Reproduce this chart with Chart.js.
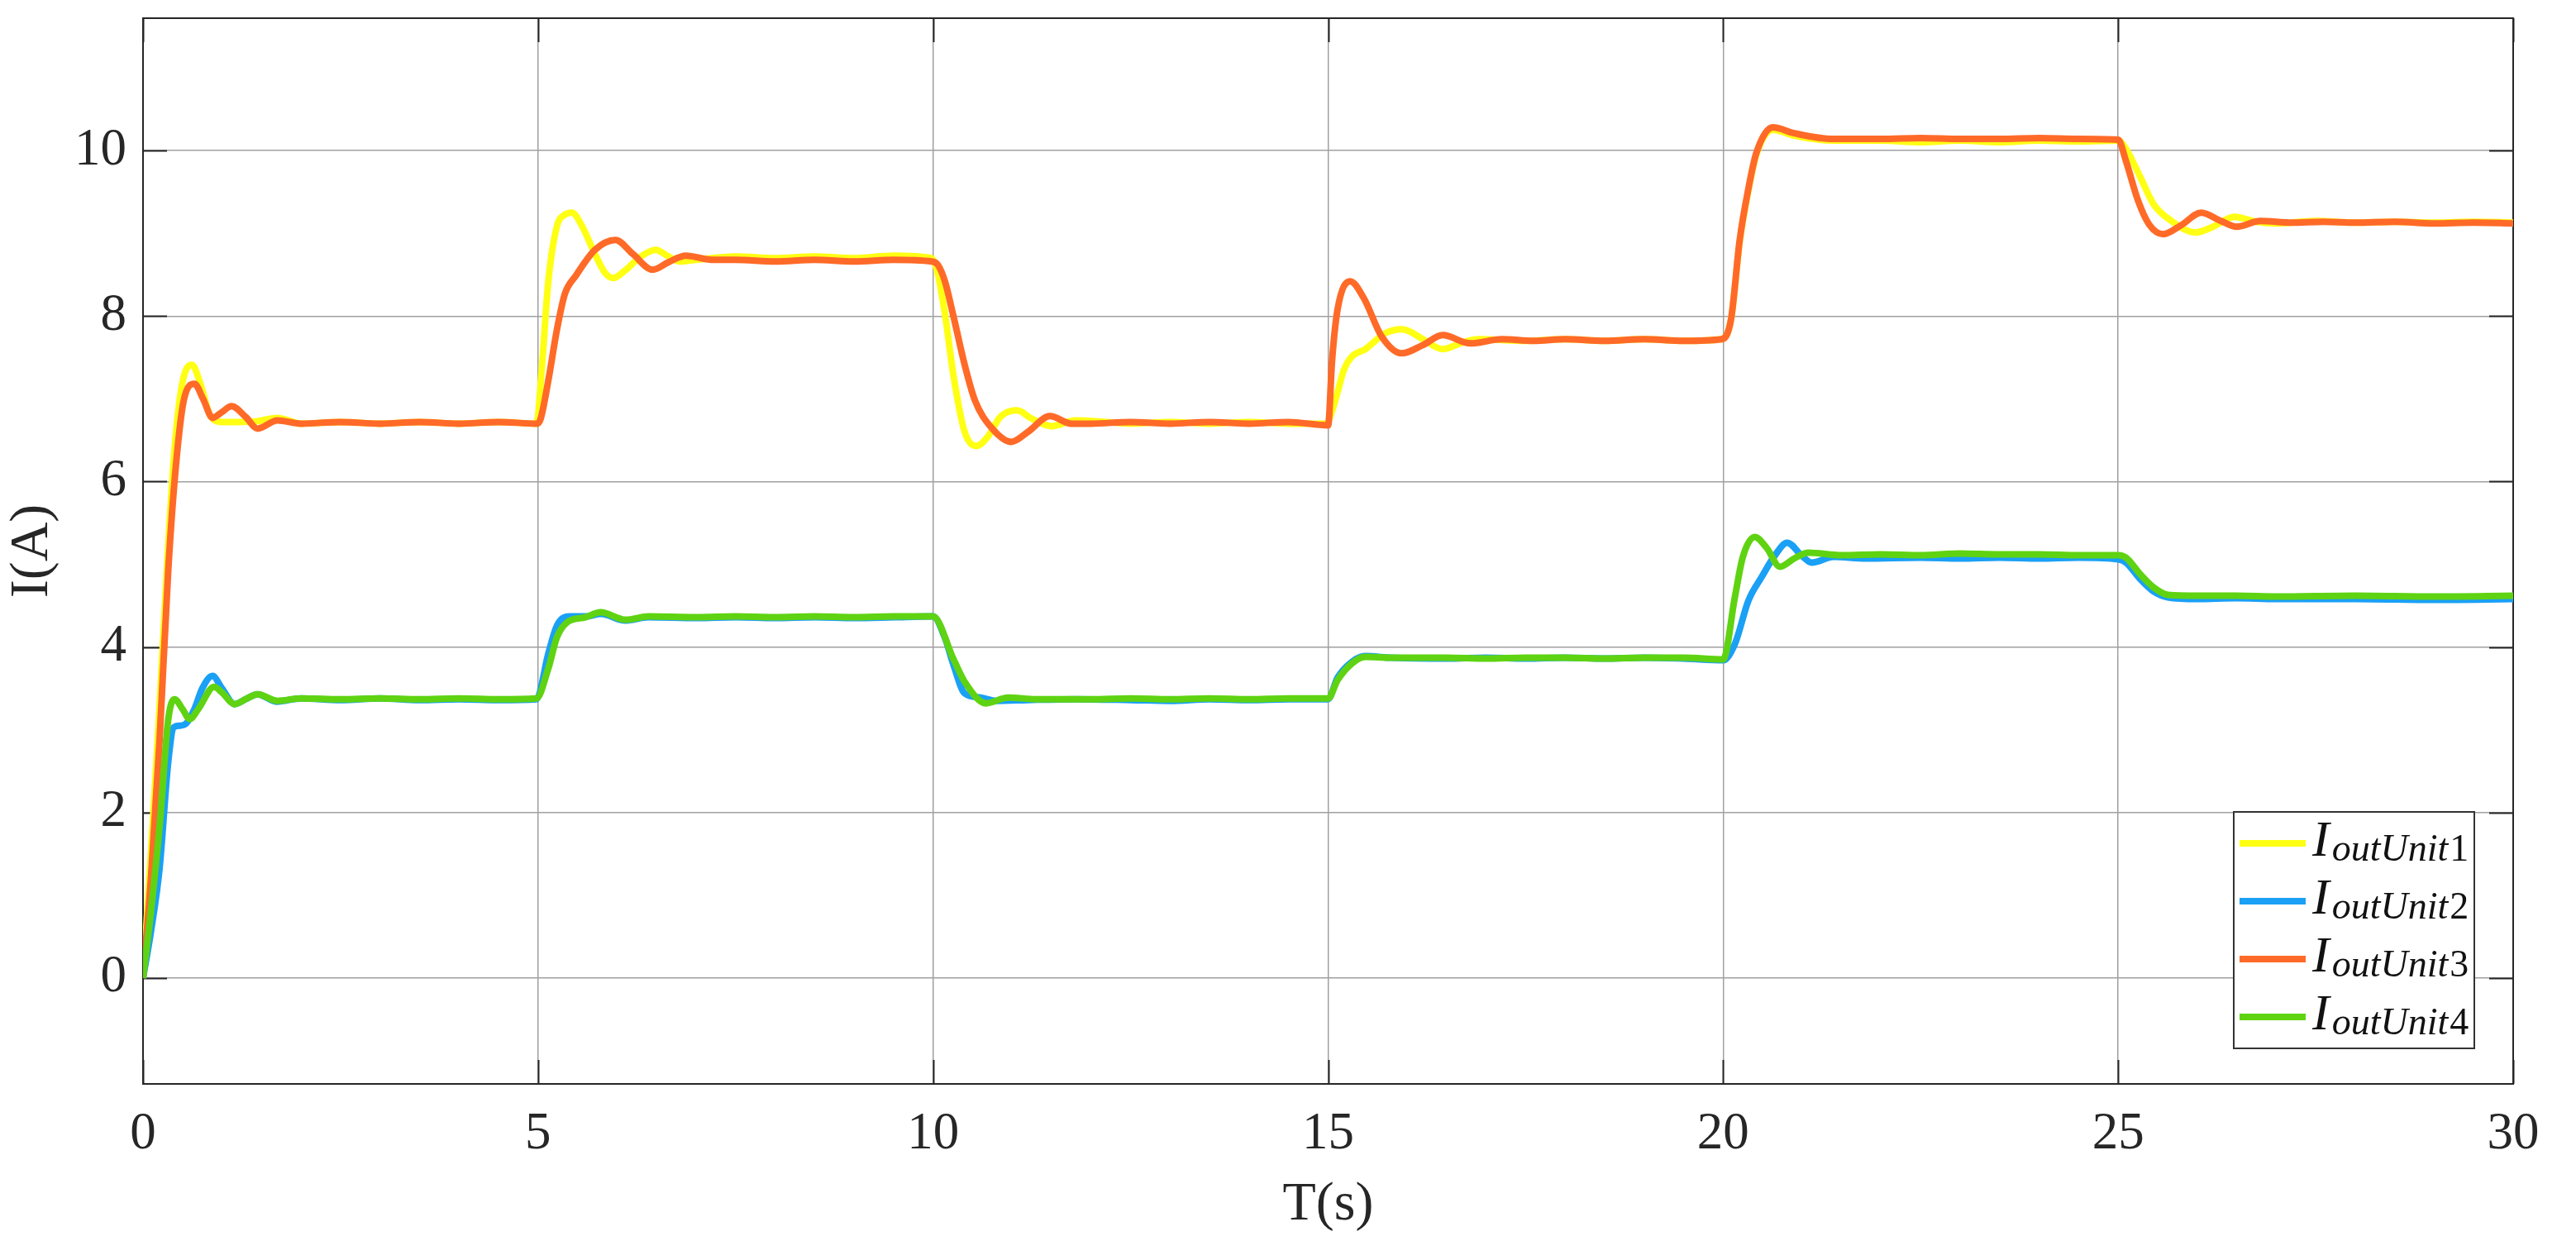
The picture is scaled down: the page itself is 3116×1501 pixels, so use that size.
<!DOCTYPE html>
<html>
<head>
<meta charset="utf-8">
<script src="https://cdn.jsdelivr.net/npm/chart.js@4.4.1/dist/chart.umd.min.js"></script>
<style>
  html, body { margin: 0; padding: 0; background: #fff; }
  #wrap { width: 3116px; height: 1501px; }
</style>
</head>
<body>
<div id="wrap"><canvas id="c" width="3116" height="1501"></canvas></div>
<script>
// axis ticks
const xTicks = [0, 5, 10, 15, 20, 25, 30];
const yTicks = [0, 2, 4, 6, 8, 10];

// I_outUnit1 (yellow)
const tUnit1 = [0, 0.1, 0.2, 0.3, 0.4, 0.5, 0.62, 0.72, 0.85, 1.0, 1.2, 1.45, 1.7, 2.0, 2.5, 3, 3.5, 4, 4.5, 4.98,
  5.05, 5.13, 5.24, 5.33, 5.43, 5.55, 5.72, 5.85, 5.95, 6.1, 6.3, 6.49, 6.65, 6.8, 7.0, 7.5, 8, 8.5, 9, 9.5, 9.98,
  10.05, 10.15, 10.26, 10.4, 10.55, 10.7, 10.85, 11.06, 11.25, 11.5, 11.8, 12.2, 12.5, 13, 13.5, 14, 14.5, 14.98,
  15.05, 15.12, 15.2, 15.3, 15.47, 15.72, 15.94, 16.2, 16.45, 16.7, 16.9, 17.5, 18, 18.5, 19, 19.5, 19.98,
  20.1, 20.21, 20.32, 20.42, 20.63, 20.9, 21.4, 22, 22.5, 23, 23.5, 24, 24.5, 25.0,
  25.1, 25.28, 25.45, 25.66, 25.98, 26.2, 26.47, 26.75, 27, 27.5, 28, 28.5, 29, 29.5, 30];
const iUnit1 = [0, 1.5, 3.1, 4.9, 6.4, 7.2, 7.41, 7.2, 6.8, 6.72, 6.72, 6.73, 6.77, 6.7, 6.72, 6.7, 6.72, 6.7, 6.72, 6.7,
  7.4, 8.42, 9.09, 9.22, 9.25, 9.1, 8.75, 8.52, 8.46, 8.55, 8.72, 8.8, 8.72, 8.66, 8.68, 8.72, 8.7, 8.72, 8.7, 8.73, 8.7,
  8.55, 8.03, 7.27, 6.6, 6.43, 6.55, 6.78, 6.86, 6.76, 6.67, 6.74, 6.72, 6.7, 6.72, 6.7, 6.72, 6.7, 6.7,
  6.85, 7.08, 7.35, 7.51, 7.6, 7.79, 7.84, 7.72, 7.6, 7.68, 7.72, 7.7, 7.72, 7.7, 7.72, 7.7, 7.72,
  7.96, 8.9, 9.52, 9.95, 10.25, 10.18, 10.12, 10.12, 10.1, 10.12, 10.1, 10.12, 10.11, 10.12,
  10.02, 9.68, 9.35, 9.16, 9.01, 9.08, 9.2, 9.14, 9.12, 9.15, 9.13, 9.14, 9.13, 9.14, 9.13];

// I_outUnit2 (blue)
const tUnit2 = [0, 0.1, 0.21, 0.32, 0.39, 0.47, 0.55, 0.65, 0.75, 0.88, 1.0, 1.16, 1.3, 1.45, 1.69, 2.0, 2.5, 3, 3.5, 4, 4.5, 4.98,
  5.13, 5.24, 5.4, 5.6, 5.8, 6.1, 6.4, 7, 7.5, 8, 8.5, 9, 9.5, 10.0,
  10.15, 10.26, 10.4, 10.6, 10.8, 11.2, 11.8, 12.5, 13, 13.5, 14, 14.5, 15.0,
  15.12, 15.3, 15.47, 15.8, 16.5, 17, 17.5, 18, 18.5, 19, 19.5, 20.0,
  20.15, 20.32, 20.49, 20.65, 20.81, 21.0, 21.12, 21.4, 21.8, 22.5, 23, 23.5, 24, 24.5, 25.0,
  25.1, 25.28, 25.45, 25.63, 26, 26.5, 27, 28, 29, 30];
const iUnit2 = [0, 0.56, 1.33, 2.62, 3.03, 3.05, 3.08, 3.25, 3.5, 3.65, 3.5, 3.31, 3.37, 3.43, 3.34, 3.38, 3.36, 3.38, 3.36, 3.37, 3.36, 3.37,
  3.92, 4.26, 4.37, 4.37, 4.4, 4.32, 4.36, 4.35, 4.36, 4.35, 4.36, 4.35, 4.36, 4.37,
  4.11, 3.78, 3.44, 3.39, 3.35, 3.36, 3.37, 3.36, 3.35, 3.37, 3.36, 3.37, 3.37,
  3.63, 3.82, 3.89, 3.87, 3.86, 3.87, 3.86, 3.87, 3.86, 3.87, 3.86, 3.84,
  4.04, 4.56, 4.85, 5.1, 5.26, 5.1, 5.02, 5.09, 5.07, 5.08, 5.07, 5.08, 5.07, 5.08, 5.06,
  5.02, 4.82, 4.67, 4.6, 4.58, 4.59, 4.58, 4.58, 4.57, 4.58];

// I_outUnit3 (orange)
const tUnit3 = [0, 0.1, 0.21, 0.32, 0.42, 0.52, 0.65, 0.76, 0.88, 1.0, 1.12, 1.3, 1.45, 1.7, 2.0, 2.5, 3, 3.5, 4, 4.5, 4.98,
  5.03, 5.13, 5.24, 5.34, 5.48, 5.72, 5.98, 6.2, 6.45, 6.65, 6.87, 7.2, 7.5, 8, 8.5, 9, 9.5, 9.98,
  10.06, 10.15, 10.26, 10.4, 10.53, 10.74, 10.99, 11.2, 11.48, 11.75, 12, 12.5, 13, 13.5, 14, 14.5, 15.0,
  15.05, 15.12, 15.28, 15.45, 15.68, 15.93, 16.2, 16.45, 16.8, 17.2, 17.6, 18, 18.5, 19, 19.5, 19.98,
  20.1, 20.21, 20.32, 20.42, 20.63, 20.9, 21.4, 22, 22.5, 23, 23.5, 24, 24.5, 25.0,
  25.1, 25.25, 25.39, 25.57, 25.8, 26.05, 26.3, 26.5, 26.8, 27.2, 27.6, 28, 28.5, 29, 29.5, 30];
const iUnit3 = [0, 1.2, 2.88, 4.94, 6.23, 7.0, 7.18, 7.0, 6.77, 6.84, 6.91, 6.78, 6.64, 6.74, 6.7, 6.72, 6.7, 6.72, 6.7, 6.72, 6.7,
  6.75, 7.22, 7.84, 8.27, 8.49, 8.8, 8.92, 8.75, 8.56, 8.65, 8.73, 8.68, 8.68, 8.66, 8.68, 8.66, 8.68, 8.66,
  8.62, 8.42, 7.99, 7.41, 6.98, 6.65, 6.48, 6.6, 6.79, 6.7, 6.7, 6.72, 6.7, 6.72, 6.7, 6.72, 6.68,
  7.46, 8.08, 8.42, 8.22, 7.75, 7.55, 7.65, 7.77, 7.67, 7.72, 7.7, 7.72, 7.7, 7.72, 7.7, 7.72,
  7.96, 8.92, 9.54, 9.97, 10.28, 10.21, 10.14, 10.14, 10.15, 10.14, 10.14, 10.15, 10.14, 10.13,
  9.87, 9.4, 9.11, 8.99, 9.1, 9.25, 9.15, 9.08, 9.15, 9.13, 9.14, 9.13, 9.14, 9.12, 9.13, 9.12];

// I_outUnit4 (green)
const tUnit4 = [0, 0.1, 0.21, 0.32, 0.4, 0.5, 0.59, 0.7, 0.9, 1.0, 1.16, 1.3, 1.45, 1.7, 2.0, 2.5, 3, 3.5, 4, 4.5, 4.98,
  5.13, 5.24, 5.37, 5.6, 5.79, 6.11, 6.4, 7, 7.5, 8, 8.5, 9, 9.5, 10.0,
  10.26, 10.4, 10.67, 10.95, 11.3, 12, 12.5, 13, 13.5, 14, 14.5, 15.0,
  15.12, 15.3, 15.47, 15.8, 16.5, 17, 17.5, 18, 18.5, 19, 19.5, 20.0,
  20.15, 20.25, 20.4, 20.55, 20.72, 20.9, 21.08, 21.5, 22, 22.5, 23, 23.5, 24, 24.5, 25.0,
  25.1, 25.28, 25.45, 25.63, 26, 26.5, 27, 28, 29, 30];
const iUnit4 = [0, 0.8, 1.84, 3.13, 3.37, 3.25, 3.13, 3.25, 3.52, 3.45, 3.31, 3.37, 3.43, 3.35, 3.38, 3.37, 3.38, 3.37, 3.38, 3.37, 3.38,
  3.74, 4.12, 4.3, 4.36, 4.42, 4.33, 4.37, 4.36, 4.37, 4.36, 4.37, 4.36, 4.37, 4.37,
  3.85, 3.58, 3.32, 3.39, 3.37, 3.37, 3.38, 3.37, 3.38, 3.37, 3.38, 3.38,
  3.6, 3.8, 3.88, 3.87, 3.87, 3.86, 3.87, 3.87, 3.86, 3.87, 3.87, 3.85,
  4.61, 5.09, 5.33, 5.2, 4.97, 5.07, 5.14, 5.11, 5.12, 5.11, 5.13, 5.12, 5.12, 5.11, 5.11,
  5.08, 4.88, 4.72, 4.63, 4.62, 4.62, 4.61, 4.62, 4.61, 4.62];

const seriesNames = ['outUnit1', 'outUnit2', 'outUnit3', 'outUnit4'];
const seriesColors = ['#FFFF14', '#1AA0F5', '#FF6A28', '#5FD312'];

const pts = (t, v) => t.map((x, i) => ({ x: x, y: v[i] }));
const ink = '#262626';
const serif = '"Liberation Serif", "Times New Roman", serif';

Chart.defaults.font.family = serif;
Chart.defaults.color = ink;

// MATLAB-style box with inward ticks on all four sides
const boxPlugin = {
  id: 'box',
  beforeDatasetsDraw(chart) {
    const { ctx, chartArea: a, scales } = chart;
    ctx.save();
    ctx.strokeStyle = ink;
    ctx.lineWidth = 2;
    ctx.beginPath();
    yTicks.forEach(v => {
      const y = Math.round(scales.y.getPixelForValue(v)) + 0.5;
      ctx.moveTo(a.left, y); ctx.lineTo(a.left + 29, y);
      ctx.moveTo(a.right, y); ctx.lineTo(a.right - 29, y);
    });
    xTicks.forEach(v => {
      const x = Math.round(scales.x.getPixelForValue(v)) + 0.5;
      ctx.moveTo(x, a.bottom); ctx.lineTo(x, a.bottom - 29);
      ctx.moveTo(x, a.top); ctx.lineTo(x, a.top + 29);
    });
    ctx.stroke();
    ctx.strokeRect(a.left, a.top, a.right - a.left, a.bottom - a.top);
    ctx.restore();
  }
};

// legend with subscripted labels
const legendPlugin = {
  id: 'mathLegend',
  afterDatasetsDraw(chart) {
    const ctx = chart.ctx;
    const bx = 2702, by = 982, bw = 291, bh = 286;
    ctx.save();
    ctx.fillStyle = '#fff';
    ctx.fillRect(bx, by, bw, bh);
    ctx.strokeStyle = '#333';
    ctx.lineWidth = 2;
    ctx.strokeRect(bx, by, bw, bh);
    seriesNames.forEach((name, i) => {
      const cy = 1020 + i * 70;
      ctx.strokeStyle = seriesColors[i];
      ctx.lineWidth = 8;
      ctx.beginPath();
      ctx.moveTo(2709, cy); ctx.lineTo(2789, cy);
      ctx.stroke();
      ctx.fillStyle = '#111';
      ctx.textBaseline = 'alphabetic';
      ctx.font = 'italic 62px ' + serif;
      ctx.fillText('I', 2797, cy + 15);
      let x = 2797 + ctx.measureText('I').width + 3;
      const word = name.slice(0, -1), num = name.slice(-1);
      ctx.font = 'italic 46px ' + serif;
      ctx.fillText(word, x, cy + 21);
      x += ctx.measureText(word).width + 2;
      ctx.font = '46px ' + serif;
      ctx.fillText(num, x, cy + 21);
    });
    ctx.restore();
  }
};

const seriesT = [tUnit1, tUnit2, tUnit3, tUnit4];
const seriesI = [iUnit1, iUnit2, iUnit3, iUnit4];

new Chart(document.getElementById('c'), {
  type: 'line',
  data: {
    datasets: seriesNames.map((name, i) => ({
      label: 'I' + name,
      data: pts(seriesT[i], seriesI[i]),
      borderColor: seriesColors[i],
      backgroundColor: seriesColors[i],
      borderWidth: 8,
      pointRadius: 0,
      cubicInterpolationMode: 'monotone',
      fill: false,
      order: 3 - i
    }))
  },
  options: {
    responsive: false,
    animation: false,
    events: [],
    layout: { padding: { left: 0, top: 22, right: 76, bottom: 0 } },
    plugins: {
      legend: { display: false },
      tooltip: { enabled: false }
    },
    scales: {
      x: {
        type: 'linear',
        min: 0,
        max: 30,
        afterBuildTicks: s => { s.ticks = xTicks.map(v => ({ value: v })); },
        afterFit: s => { s.height = 190; s.paddingLeft = 0; s.paddingRight = 0; },
        grid: { color: '#a0a0a0', lineWidth: 1.5, drawTicks: false },
        border: { display: false },
        ticks: { font: { size: 63 }, padding: 24, color: ink, maxRotation: 0 },
        title: { display: true, text: 'T(s)', font: { size: 66 }, color: ink, padding: { top: 0, bottom: 4 } }
      },
      y: {
        type: 'linear',
        min: -1.28,
        max: 11.6,
        afterBuildTicks: s => { s.ticks = yTicks.map(v => ({ value: v })); },
        afterFit: s => { s.width = 173; s.paddingTop = 0; s.paddingBottom = 0; },
        grid: { color: '#a0a0a0', lineWidth: 1.5, drawTicks: false },
        border: { display: false },
        ticks: { font: { size: 63 }, padding: 20, color: ink },
        title: { display: true, text: 'I(A)', font: { size: 66 }, color: ink, padding: { top: 0, bottom: 0 } }
      }
    }
  },
  plugins: [boxPlugin, legendPlugin]
});
</script>
</body>
</html>
